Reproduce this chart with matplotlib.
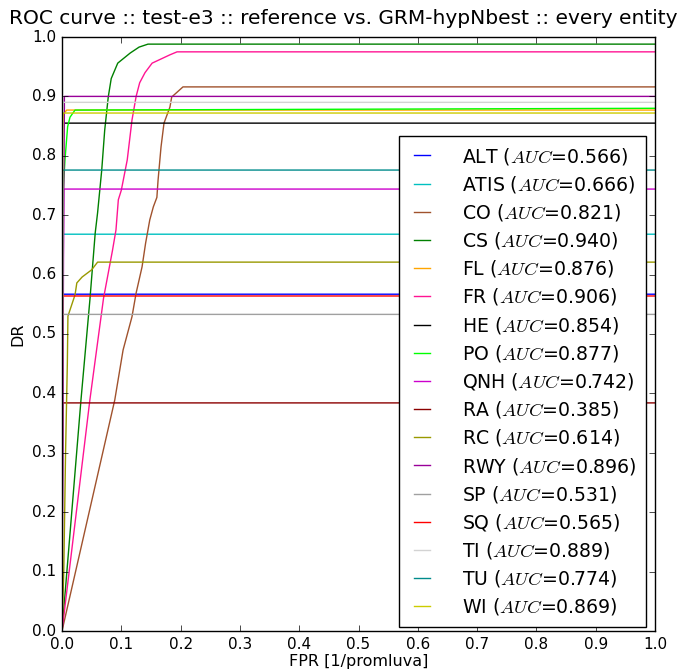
import matplotlib
matplotlib.use('Agg')
import matplotlib.pyplot as plt

plt.style.use('classic')

# ROC points per entity (FPR, DR)
names = ['ALT', 'ATIS', 'CO', 'CS', 'FL', 'FR', 'HE', 'PO', 'QNH',
         'RA', 'RC', 'RWY', 'SP', 'SQ', 'TI', 'TU', 'WI']
aucs = [0.566, 0.666, 0.821, 0.940, 0.876, 0.906, 0.854, 0.877, 0.742,
        0.385, 0.614, 0.896, 0.531, 0.565, 0.889, 0.774, 0.869]
colors = ['#0000ff', '#00c0c0', '#a0522d', '#008000', '#ffa500', '#ff1493',
          '#000000', '#00ff00', '#cc00cc', '#8b0000', '#999900', '#990099',
          '#a0a0a0', '#ff0000', '#d3d3d3', '#008b8b', '#cccc00']

fpr_alt = [0, 0.001, 0.002, 1]
dr_alt = [0, 0.40, 0.567, 0.567]
fpr_atis = [0, 0.0005, 1]
dr_atis = [0, 0.668, 0.668]
fpr_co = [0, 0.089, 0.103, 0.118, 0.125, 0.135, 0.141, 0.148, 0.154, 0.160,
          0.162, 0.167, 0.172, 0.182, 0.185, 0.194, 0.204, 1]
dr_co = [0, 0.389, 0.473, 0.529, 0.569, 0.613, 0.653, 0.692, 0.714, 0.730,
         0.759, 0.815, 0.855, 0.882, 0.899, 0.907, 0.916, 0.916]
fpr_cs = [0, 0.032, 0.047, 0.056, 0.060, 0.067, 0.072, 0.078, 0.083, 0.094,
          0.115, 0.130, 0.145, 1]
dr_cs = [0, 0.389, 0.557, 0.670, 0.704, 0.776, 0.843, 0.899, 0.930, 0.956,
         0.973, 0.983, 0.988, 0.988]
fpr_fl = [0, 0.001, 0.002, 0.008, 1]
dr_fl = [0, 0.82, 0.870, 0.877, 0.877]
fpr_fr = [0, 0.047, 0.070, 0.085, 0.091, 0.095, 0.100, 0.110, 0.118, 0.125,
          0.131, 0.140, 0.152, 0.182, 0.194, 1]
dr_fr = [0, 0.389, 0.560, 0.640, 0.675, 0.726, 0.742, 0.793, 0.860, 0.900,
         0.923, 0.940, 0.956, 0.970, 0.975, 0.975]
fpr_he = [0, 0.001, 1]
dr_he = [0, 0.855, 0.855]
fpr_po = [0, 0.001, 0.005, 0.0095, 0.0135, 0.022, 1]
dr_po = [0, 0.72, 0.793, 0.849, 0.865, 0.877, 0.880]
fpr_qnh = [0, 0.003, 1]
dr_qnh = [0, 0.744, 0.744]
fpr_ra = [0, 0.001, 1]
dr_ra = [0, 0.384, 0.384]
fpr_rc = [0, 0.003, 0.006, 0.009, 0.010, 0.022, 0.025, 0.034, 0.050, 0.060, 1]
dr_rc = [0, 0.10, 0.30, 0.45, 0.53, 0.566, 0.586, 0.596, 0.608, 0.621, 0.621]
fpr_rwy = [0, 0.002, 0.004, 0.004, 1]
dr_rwy = [0, 0.60, 0.88, 0.900, 0.900]
fpr_sp = [0, 0.0005, 1]
dr_sp = [0, 0.533, 0.533]
fpr_sq = [0, 0.001, 1]
dr_sq = [0, 0.564, 0.564]
fpr_ti = [0, 0.002, 1]
dr_ti = [0, 0.890, 0.890]
fpr_tu = [0, 0.001, 1]
dr_tu = [0, 0.776, 0.776]
fpr_wi = [0, 0.001, 0.002, 1]
dr_wi = [0, 0.85, 0.872, 0.872]

curves = [(fpr_alt, dr_alt), (fpr_atis, dr_atis), (fpr_co, dr_co),
          (fpr_cs, dr_cs), (fpr_fl, dr_fl), (fpr_fr, dr_fr), (fpr_he, dr_he),
          (fpr_po, dr_po), (fpr_qnh, dr_qnh), (fpr_ra, dr_ra),
          (fpr_rc, dr_rc), (fpr_rwy, dr_rwy), (fpr_sp, dr_sp),
          (fpr_sq, dr_sq), (fpr_ti, dr_ti), (fpr_tu, dr_tu), (fpr_wi, dr_wi)]

fig = plt.figure(figsize=(6.79, 6.70), dpi=100)
ax = fig.add_axes([62 / 679.0, 39 / 670.0, 593 / 679.0, 594 / 670.0])

for name, auc, col, (fx, dy) in zip(names, aucs, colors, curves):
    ax.plot(fx, dy, color=col, linewidth=1.0,
            label='%s ($AUC$=%.3f)' % (name, auc))

ax.set_xlim(0, 1)
ax.set_ylim(0, 1)
ax.set_xticks([i / 10.0 for i in range(11)])
ax.set_yticks([i / 10.0 for i in range(11)])
ax.tick_params(labelsize=11)
ax.set_xlabel('FPR [1/promluva]', fontsize=11.5, labelpad=2)
ax.set_ylabel('DR', fontsize=11.5)
ax.set_title('ROC curve :: test-e3 :: reference vs. GRM-hypNbest :: every entity',
             fontsize=14.5, x=0.474, pad=9)
ax.legend(loc='lower right', bbox_to_anchor=(0.985, 0.007), borderaxespad=0,
          fontsize=13.6, handlelength=1.45, handletextpad=1.4,
          labelspacing=0.38, borderpad=0.5)

fig.savefig('out.png', dpi=100)
